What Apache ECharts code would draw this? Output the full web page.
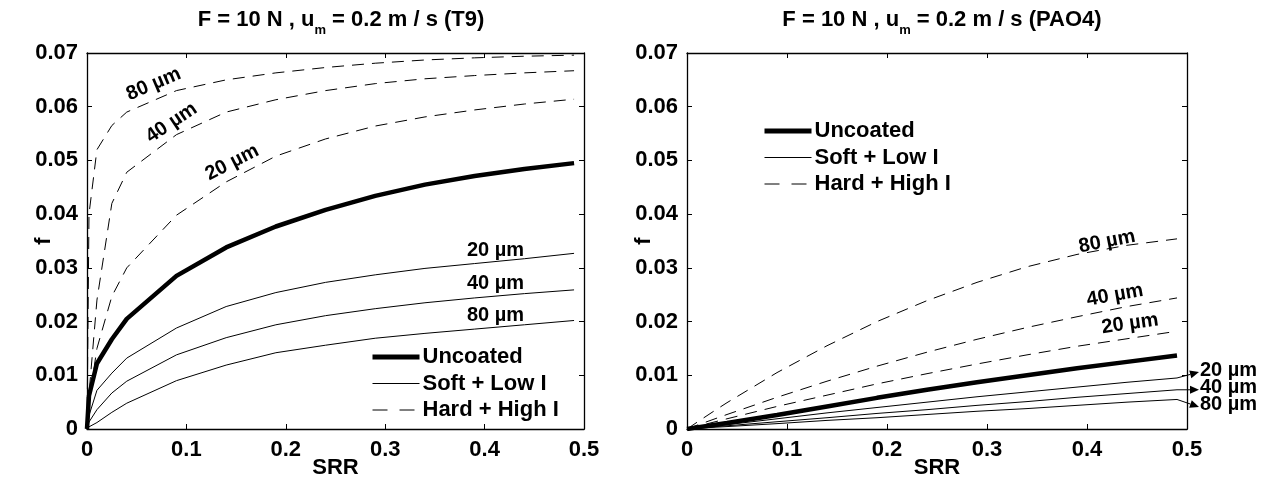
<!DOCTYPE html>
<html>
<head>
<meta charset="utf-8">
<title>f vs SRR</title>
<style>
  html, body { margin: 0; padding: 0; background: #fff; }
  #chart { width: 1263px; height: 486px; }
</style>
</head>
<body>
<div id="chart"></div>
<script src="https://cdn.jsdelivr.net/npm/echarts@6.0.0/dist/echarts.min.js"></script>
<script>
// slide-to-roll ratio, shared by every curve
var srr = [0, 0.002, 0.01, 0.025, 0.04, 0.09, 0.14, 0.19, 0.24, 0.29, 0.34, 0.39, 0.44, 0.49];

// T9 (left panel)
var uncoatedT9 = [0, 0.0062, 0.0122, 0.0167, 0.0205, 0.0285, 0.0338, 0.0377, 0.0408, 0.0434, 0.0455, 0.0471, 0.0484, 0.0495];
var soft20T9   = [0, 0.0025, 0.0072, 0.0104, 0.0132, 0.0188, 0.0228, 0.0254, 0.0273, 0.0287, 0.0299, 0.0308, 0.0317, 0.0327];
var soft40T9   = [0, 0.0013, 0.0036, 0.0067, 0.0089, 0.0138, 0.0170, 0.0194, 0.0211, 0.0224, 0.0235, 0.0244, 0.0252, 0.0259];
var soft80T9   = [0, 0.0004, 0.0012, 0.0031, 0.0048, 0.0090, 0.0119, 0.0142, 0.0156, 0.0169, 0.0178, 0.0186, 0.0194, 0.0202];
var hard20T9   = [0, 0.0050, 0.0150, 0.0247, 0.0300, 0.0398, 0.0460, 0.0508, 0.0540, 0.0564, 0.0581, 0.0594, 0.0605, 0.0614];
var hard40T9   = [0, 0.0065, 0.0240, 0.0420, 0.0478, 0.0548, 0.0590, 0.0613, 0.0630, 0.0643, 0.0652, 0.0658, 0.0663, 0.0667];
var hard80T9   = [0, 0.0400, 0.0520, 0.0565, 0.0590, 0.0630, 0.0650, 0.0663, 0.0673, 0.0681, 0.0687, 0.0691, 0.0694, 0.0696];

// PAO4 (right panel)
var uncoatedPAO = [0, 0.00005, 0.0003, 0.0007, 0.0011, 0.0026, 0.0042, 0.0058, 0.0073, 0.0087, 0.0100, 0.0113, 0.0125, 0.0137];
var soft20PAO   = [0, 0.00004, 0.0002, 0.0005, 0.0008, 0.0019, 0.0030, 0.0040, 0.0050, 0.0060, 0.0069, 0.0078, 0.0087, 0.0095];
var soft40PAO   = [0, 0.00003, 0.00015, 0.0004, 0.0006, 0.00135, 0.0021, 0.0029, 0.0036, 0.0044, 0.0051, 0.0059, 0.0066, 0.0073];
var soft80PAO   = [0, 0.00002, 0.0001, 0.0003, 0.00045, 0.0010, 0.0016, 0.0021, 0.0027, 0.0033, 0.0038, 0.0044, 0.0050, 0.0055];
var hard20PAO   = [0, 0.0001, 0.0005, 0.0012, 0.0019, 0.0042, 0.0063, 0.0084, 0.0103, 0.0121, 0.0138, 0.0154, 0.0168, 0.0182];
var hard40PAO   = [0, 0.00014, 0.0007, 0.0017, 0.0027, 0.0059, 0.0089, 0.0117, 0.0143, 0.0167, 0.0189, 0.0209, 0.0228, 0.0244];
var hard80PAO   = [0, 0.00025, 0.00125, 0.0031, 0.0049, 0.0105, 0.0155, 0.0200, 0.0239, 0.0273, 0.0302, 0.0325, 0.0342, 0.0354];

var legendNames = ['Uncoated', 'Soft + Low I', 'Hard + High I'];
var titles = ['F = 10 N , u{m|m} = 0.2 m / s (T9)', 'F = 10 N , u{m|m} = 0.2 m / s (PAO4)'];

// curve labels: [text, srr, f, rotation in degrees]
var notesT9 = [
  ['80 µm', 0.067, 0.0642, 23],
  ['40 µm', 0.085, 0.0570, 34],
  ['20 µm', 0.146, 0.0496, 27],
  ['20 µm', 0.411, 0.0333, 0],
  ['40 µm', 0.411, 0.0270, 0],
  ['80 µm', 0.411, 0.0211, 0]
];
var notesPAO = [
  ['80 µm', 0.420, 0.0349, 11],
  ['40 µm', 0.428, 0.0249, 10],
  ['20 µm', 0.443, 0.0196, 8]
];
// labels outside the right panel with arrows from the curve ends
var arrowNotes = [
  ['20 µm', soft20PAO, 0.0106],
  ['40 µm', soft40PAO, 0.0073],
  ['80 µm', soft80PAO, 0.0041]
];

var FONT = '"Liberation Sans Narrow", "Arial Narrow", "Liberation Sans", sans-serif';
var TXT = { fontFamily: FONT, fontSize: 22, fontWeight: 'bold', color: '#000' };
var DASH = [12, 8];

var chart = echarts.init(document.getElementById('chart'));

function pairs(vals) {
  return srr.map(function (x, i) { return [x, vals[i]]; });
}

function curve(name, vals, g) {
  var ls = { color: '#000', width: 1, type: 'solid' };
  if (name === 'Uncoated') ls.width = 4.5;
  if (name === 'Hard + High I') ls.type = DASH;
  return {
    name: name, type: 'line', xAxisIndex: g * 2, yAxisIndex: g * 2,
    data: pairs(vals), symbol: 'none', silent: true, animation: false,
    itemStyle: { color: '#000' }, lineStyle: ls
  };
}

function axesFor(g) {
  var tick = { show: true, inside: true, length: 5, lineStyle: { color: '#000', width: 1 } };
  var axLine = { show: true, onZero: false, lineStyle: { color: '#000', width: 1.3 } };
  var xs = [
    { type: 'value', gridIndex: g, min: 0, max: 0.5, interval: 0.1, position: 'bottom',
      axisLine: axLine, axisTick: tick, splitLine: { show: false },
      axisLabel: Object.assign({ margin: 10 }, TXT),
      name: 'SRR', nameLocation: 'middle', nameGap: 28, nameMoveOverlap: false, nameTextStyle: TXT },
    { type: 'value', gridIndex: g, min: 0, max: 0.5, interval: 0.1, position: 'top',
      axisLine: axLine, axisTick: tick, splitLine: { show: false }, axisLabel: { show: false } }
  ];
  var ys = [
    { type: 'value', gridIndex: g, min: 0, max: 0.07, interval: 0.01, position: 'left',
      axisLine: axLine, axisTick: tick, splitLine: { show: false },
      axisLabel: Object.assign({ margin: 9 }, TXT),
      name: 'f', nameLocation: 'middle', nameGap: 32, nameMoveOverlap: false, nameTextStyle: TXT },
    { type: 'value', gridIndex: g, min: 0, max: 0.07, interval: 0.01, position: 'right',
      axisLine: axLine, axisTick: tick, splitLine: { show: false }, axisLabel: { show: false } }
  ];
  return { x: xs, y: ys };
}

var a0 = axesFor(0), a1 = axesFor(1);

function legendAt(left, top) {
  return {
    data: [
      { name: legendNames[0], lineStyle: { width: 5, type: 'solid', color: '#000' } },
      { name: legendNames[1], lineStyle: { width: 1, type: 'solid', color: '#000' } },
      { name: legendNames[2], lineStyle: { width: 1, type: [15, 12], color: '#000' } }
    ],
    orient: 'vertical', left: left, top: top,
    itemWidth: 47, itemHeight: 14, itemGap: 4.5, selectedMode: false,
    itemStyle: { opacity: 0 },
    textStyle: Object.assign({ lineHeight: 20, padding: [0, 0, 0, -2] }, TXT)
  };
}

function titleAt(text, cx) {
  return {
    text: text, left: cx, top: -3, textAlign: 'center',
    textStyle: Object.assign({
      rich: { m: { fontFamily: FONT, fontSize: 13, fontWeight: 'bold', color: '#000', padding: [22, 0, 0, 0] } }
    }, TXT)
  };
}

var option = {
  backgroundColor: '#fff',
  animation: false,
  title: [titleAt(titles[0], 336), titleAt(titles[1], 937)],
  grid: [
    { left: 87, top: 53, width: 497, height: 376 },
    { left: 687, top: 53, width: 500, height: 376 }
  ],
  legend: [legendAt(365, 341), legendAt(757, 115)],
  xAxis: a0.x.concat(a1.x),
  yAxis: a0.y.concat(a1.y),
  series: [
    curve('Hard + High I', hard80T9, 0),
    curve('Hard + High I', hard40T9, 0),
    curve('Hard + High I', hard20T9, 0),
    curve('Soft + Low I', soft20T9, 0),
    curve('Soft + Low I', soft40T9, 0),
    curve('Soft + Low I', soft80T9, 0),
    curve('Uncoated', uncoatedT9, 0),
    curve('Hard + High I', hard80PAO, 1),
    curve('Hard + High I', hard40PAO, 1),
    curve('Hard + High I', hard20PAO, 1),
    curve('Soft + Low I', soft20PAO, 1),
    curve('Soft + Low I', soft40PAO, 1),
    curve('Soft + Low I', soft80PAO, 1),
    curve('Uncoated', uncoatedPAO, 1)
  ]
};
chart.setOption(option);

// curve labels and arrows, placed through the axes
function textEl(str, p, rot, align) {
  return {
    type: 'text', x: p[0], y: p[1], rotation: rot * Math.PI / 180, silent: true, z: 10,
    style: { text: str, fontFamily: FONT, fontSize: 20, fontWeight: 'bold', fill: '#000',
             align: align || 'center', verticalAlign: 'middle' }
  };
}

var gfx = [];
notesT9.forEach(function (n) {
  gfx.push(textEl(n[0], chart.convertToPixel({ gridIndex: 0 }, [n[1], n[2]]), n[3]));
});
notesPAO.forEach(function (n) {
  gfx.push(textEl(n[0], chart.convertToPixel({ gridIndex: 1 }, [n[1], n[2]]), n[3]));
});
arrowNotes.forEach(function (n) {
  var last = srr.length - 1;
  var p0 = chart.convertToPixel({ gridIndex: 1 }, [srr[last], n[1][last]]);
  var p1 = chart.convertToPixel({ gridIndex: 1 }, [0.512, n[2]]);
  var ang = Math.atan2(p1[1] - p0[1], p1[0] - p0[0]);
  var L = 9, W = 4;
  var bx = p1[0] - L * Math.cos(ang), by = p1[1] - L * Math.sin(ang);
  gfx.push({ type: 'line', silent: true, z: 10,
    shape: { x1: p0[0], y1: p0[1], x2: bx, y2: by }, style: { stroke: '#000', lineWidth: 1 } });
  gfx.push({ type: 'polygon', silent: true, z: 10,
    shape: { points: [[p1[0], p1[1]],
      [bx + W * Math.sin(ang), by - W * Math.cos(ang)],
      [bx - W * Math.sin(ang), by + W * Math.cos(ang)]] },
    style: { fill: '#000' } });
  gfx.push(textEl(n[0], [p1[0] + 1, p1[1] - 2], 0, 'left'));
});
chart.setOption({ graphic: gfx });
</script>
</body>
</html>
